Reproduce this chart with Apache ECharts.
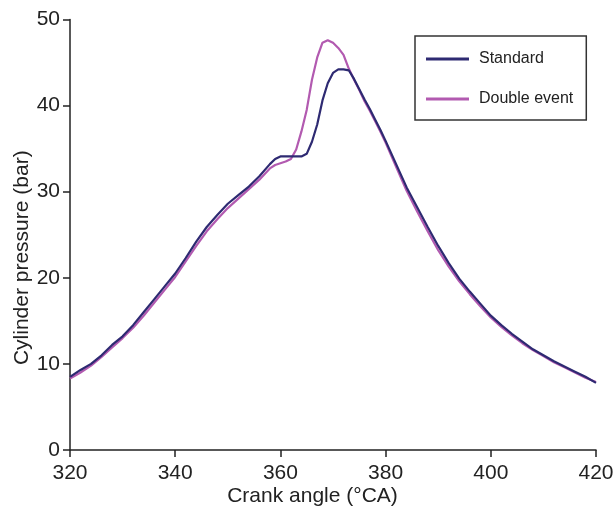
<!DOCTYPE html>
<html><head><meta charset="utf-8">
<script src="https://cdn.jsdelivr.net/npm/echarts@6/dist/echarts.min.js"></script>
<style>html,body{margin:0;padding:0;background:#fff}#c{width:616px;height:507px}</style>
</head><body><div id="c"></div>
<script>
var seriesNames = ['Standard', 'Double event'];
var xTicks = [320, 340, 360, 380, 400, 420];
var yTicks = [0, 10, 20, 30, 40, 50];

var standardAngle = [320,322,324,326,328,330,332,334,336,338,340,342,344,346,348,350,352,354,356,358,359,360,361,362,363,364,365,366,367,368,369,370,371,372,373,374,375,376,377,378,379,380,382,384,386,388,390,392,394,396,398,400,402,404,406,408,410,412,414,416,418,420];
var standardP = [8.5,9.3,10.0,11.0,12.2,13.2,14.5,16.0,17.5,19.0,20.5,22.3,24.2,25.9,27.3,28.6,29.6,30.6,31.8,33.2,33.8,34.1,34.1,34.1,34.1,34.1,34.4,35.8,37.8,40.6,42.6,43.8,44.2,44.2,44.1,43.1,41.9,40.7,39.6,38.4,37.2,35.9,33.2,30.5,28.2,25.9,23.7,21.7,19.9,18.4,17.0,15.6,14.5,13.5,12.6,11.7,11.0,10.3,9.7,9.1,8.5,7.8];

var doubleAngle = [320,322,324,326,328,330,332,334,336,338,340,342,344,346,348,350,352,354,356,358,359,360,361,362,363,364,365,366,367,368,369,370,371,372,373,374,375,376,377,378,379,380,382,384,386,388,390,392,394,396,398,400,402,404,406,408,410,412,414,416,418,420];
var doubleP = [8.3,9.0,9.8,10.8,11.9,13.0,14.2,15.6,17.1,18.6,20.1,21.9,23.7,25.4,26.8,28.1,29.2,30.3,31.4,32.7,33.1,33.3,33.5,33.8,34.9,37.0,39.5,43.0,45.6,47.3,47.6,47.3,46.7,45.9,44.3,43.0,41.8,40.5,39.4,38.2,37.0,35.7,32.9,30.1,27.7,25.4,23.2,21.3,19.6,18.1,16.7,15.4,14.3,13.3,12.4,11.6,10.9,10.2,9.6,9.0,8.4,7.9];

function pairs(xs, ys){ return xs.map(function(x,i){ return [x, ys[i]]; }); }

var FONT = 'Liberation Sans, Arial, sans-serif';
var chart = echarts.init(document.getElementById('c'));
chart.setOption({
  animation: false,
  backgroundColor: '#fff',
  grid: { left: 70, right: 20, top: 19.5, bottom: 57, containLabel: false, outerBoundsMode: 'none' },
  legend: {
    orient: 'vertical', left: 415, top: 36,
    data: seriesNames,
    icon: 'rect',
    backgroundColor: '#fff', borderColor: '#333', borderWidth: 1.5,
    padding: [15, 13, 13, 11],
    itemWidth: 43, itemHeight: 3, itemGap: 24,
    textStyle: { fontFamily: FONT, fontSize: 16, lineHeight: 14, color: '#222', padding: [0,0,0,5] }
  },
  xAxis: {
    type: 'value', min: xTicks[0], max: xTicks[xTicks.length-1], interval: 20,
    name: 'Crank angle (°CA)', nameLocation: 'middle', nameGap: 36, nameMoveOverlap: false,
    nameTextStyle: { fontFamily: FONT, fontSize: 21, color: '#222', padding: [0, 41, 0, 0] },
    axisLine: { onZero: false, lineStyle: { color: '#222', width: 1.5 } },
    axisTick: { show: true, inside: false, length: 7, lineStyle: { color: '#222', width: 1.5 } },
    axisLabel: { fontFamily: FONT, fontSize: 21, color: '#222', margin: 13 },
    splitLine: { show: false }
  },
  yAxis: {
    type: 'value', min: yTicks[0], max: yTicks[yTicks.length-1], interval: 10,
    name: 'Cylinder pressure (bar)', nameLocation: 'middle', nameGap: 37, nameMoveOverlap: false,
    nameTextStyle: { fontFamily: FONT, fontSize: 21, color: '#222', padding: [0, 46, 0, 0] },
    axisLine: { show: true, lineStyle: { color: '#222', width: 1.5 } },
    axisTick: { show: true, inside: false, length: 7, lineStyle: { color: '#222', width: 1.5 } },
    axisLabel: { fontFamily: FONT, fontSize: 21, color: '#222', margin: 10 },
    splitLine: { show: false }
  },
  series: [
    { name: seriesNames[0], type: 'line', symbol: 'none', data: pairs(standardAngle, standardP),
      lineStyle: { color: '#2e2a72', width: 2.2 }, itemStyle: { color: '#2e2a72' }, z: 3 },
    { name: seriesNames[1], type: 'line', symbol: 'none', data: pairs(doubleAngle, doubleP),
      lineStyle: { color: '#b25ab0', width: 2.2 }, itemStyle: { color: '#b25ab0' }, z: 2 }
  ]
});
</script></body></html>
